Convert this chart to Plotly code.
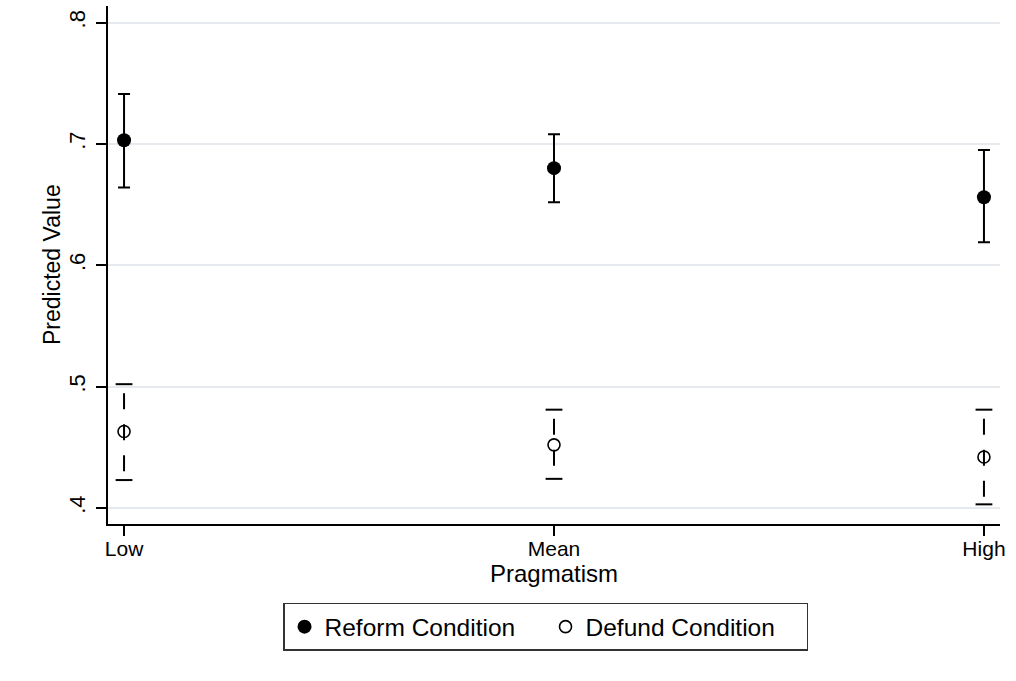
import plotly.graph_objects as go

# ---- data ----
categories = ["Low", "Mean", "High"]
x_pos = [0, 1, 2]

reform_est = [0.703, 0.680, 0.656]
reform_lo = [0.664, 0.652, 0.619]
reform_hi = [0.741, 0.708, 0.695]

defund_est = [0.463, 0.452, 0.442]
defund_lo = [0.423, 0.424, 0.403]
defund_hi = [0.502, 0.481, 0.481]

y_tickvals = [0.4, 0.5, 0.6, 0.7, 0.8]
y_ticktext = [".4", ".5", ".6", ".7", ".8"]

FONT = "Liberation Sans, Arial, Helvetica, sans-serif"

fig = go.Figure()

# Reform condition: filled markers with solid capped CIs
fig.add_trace(go.Scatter(
    x=x_pos, y=reform_est, mode="markers", name="Reform Condition",
    marker=dict(symbol="circle", size=14, color="black"),
    error_y=dict(type="data", symmetric=False,
                 array=[h - e for h, e in zip(reform_hi, reform_est)],
                 arrayminus=[e - l for e, l in zip(reform_est, reform_lo)],
                 color="black", thickness=2, width=6),
))

# Defund condition: dashed CI lines
seg_x, seg_y = [], []
for xv, lo, hi in zip(x_pos, defund_lo, defund_hi):
    seg_x += [xv, xv, None]
    seg_y += [hi, lo, None]
fig.add_trace(go.Scatter(
    x=seg_x, y=seg_y, mode="lines", showlegend=False, hoverinfo="skip",
    line=dict(color="black", width=2, dash="0px,9px,16px,6px"),
))
# caps
fig.add_trace(go.Scatter(
    x=x_pos + x_pos, y=defund_lo + defund_hi, mode="markers", showlegend=False,
    hoverinfo="skip",
    marker=dict(symbol="line-ew", size=12, line=dict(color="black", width=2)),
))
# hollow markers
fig.add_trace(go.Scatter(
    x=x_pos, y=defund_est, mode="markers", name="Defund Condition",
    marker=dict(symbol="circle-open", size=12, color="black",
                line=dict(color="black", width=1.6)),
))

fig.update_layout(
    width=1016, height=681,
    margin=dict(l=108, r=16, t=6, b=157),
    paper_bgcolor="white", plot_bgcolor="white",
    font=dict(family=FONT, color="black"),
    showlegend=True,
    legend=dict(
        orientation="h", x=0.4905, xanchor="center", y=-0.152, yanchor="top",
        bordercolor="#333333", borderwidth=1.5, bgcolor="white",
        font=dict(size=24.5, family=FONT), itemwidth=30,
        entrywidth=216, entrywidthmode="pixels",
        traceorder="normal",
    ),
    xaxis=dict(
        range=[-0.0373, 2.0373], tickvals=x_pos, ticktext=categories,
        showgrid=False, zeroline=False,
        showline=True, linecolor="black", linewidth=1.5,
        ticks="outside", ticklen=10, tickwidth=1.5, tickcolor="black",
        ticklabelstandoff=-5,
        tickfont=dict(size=21, family=FONT),
        title=dict(text="Pragmatism", font=dict(size=24, family=FONT), standoff=4),
    ),
    yaxis=dict(
        range=[0.3868, 0.8136], tickvals=y_tickvals, ticktext=y_ticktext,
        tickangle=-90, ticklabelstandoff=2,
        showgrid=True, gridcolor="#e6eaee", gridwidth=1.5, zeroline=False,
        showline=True, linecolor="black", linewidth=1.5,
        ticks="outside", ticklen=10, tickwidth=1.5, tickcolor="black",
        tickfont=dict(size=22, family=FONT),
    ),
    annotations=[dict(
        text="Predicted Value", textangle=-90, showarrow=False,
        xref="paper", yref="paper", x=0, y=0.5, xanchor="center", yanchor="middle",
        xshift=-56, font=dict(size=23, family=FONT, color="black"),
    )],
)

fig.write_html("out.html", config={"displayModeBar": False},
               post_script="document.body.style.margin='0';")
